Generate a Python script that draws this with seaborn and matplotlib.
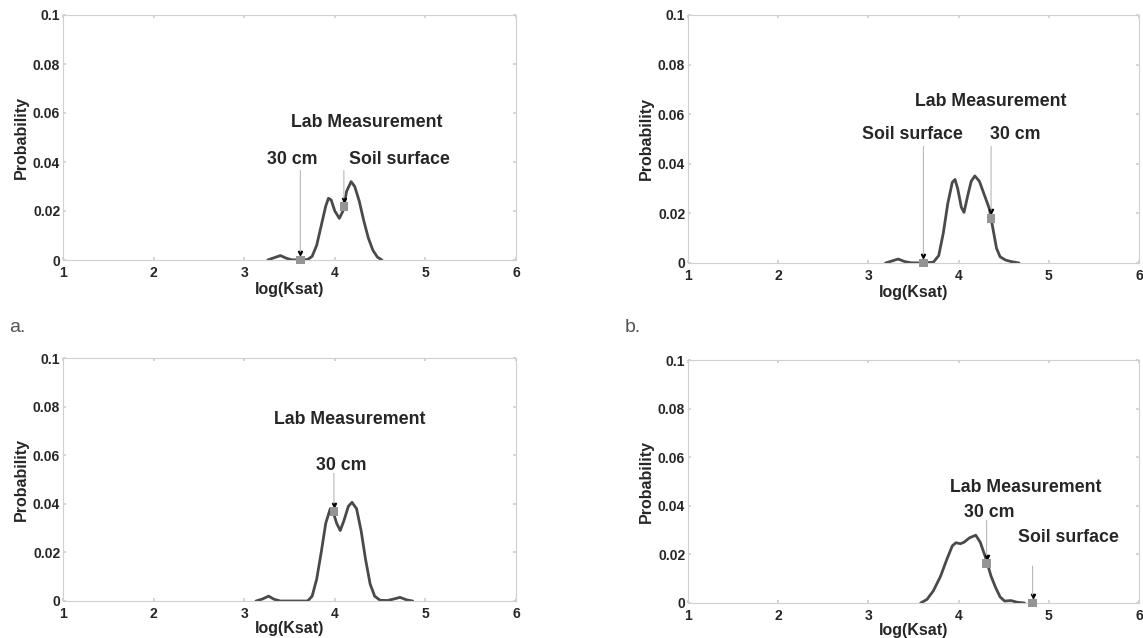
import matplotlib
matplotlib.use("Agg")
import matplotlib.pyplot as plt
import matplotlib.transforms as mtransforms
import seaborn as sns
import pandas as pd

# Curves (log(Ksat) vs probability)
a_x = [3.26, 3.32, 3.40, 3.46, 3.52, 3.60, 3.70, 3.75, 3.80, 3.85, 3.90, 3.93, 3.96, 4.00,
       4.05, 4.09, 4.13, 4.18, 4.22, 4.27, 4.32, 4.37, 4.42, 4.47, 4.52]
a_y = [0, 0.0008, 0.0018, 0.0008, 0.0001, 0, 0.0002, 0.0015, 0.006, 0.014, 0.022, 0.0252,
       0.0245, 0.020, 0.017, 0.020, 0.028, 0.032, 0.030, 0.024, 0.016, 0.009, 0.004, 0.0012, 0]

b_x = [3.19, 3.26, 3.33, 3.40, 3.47, 3.60, 3.72, 3.78, 3.83, 3.88, 3.93, 3.96, 3.99, 4.03,
       4.06, 4.10, 4.14, 4.18, 4.23, 4.28, 4.34, 4.38, 4.42, 4.46, 4.52, 4.58, 4.67]
b_y = [0, 0.0008, 0.0016, 0.0006, 0.0001, 0, 0.0003, 0.003, 0.012, 0.024, 0.0325, 0.0337,
       0.030, 0.0225, 0.0204, 0.027, 0.033, 0.0351, 0.033, 0.028, 0.022, 0.014, 0.006,
       0.0025, 0.0012, 0.0006, 0]

c_x = [3.13, 3.20, 3.27, 3.33, 3.40, 3.70, 3.75, 3.80, 3.85, 3.90, 3.95, 3.98, 4.02, 4.06,
       4.10, 4.15, 4.19, 4.24, 4.29, 4.34, 4.39, 4.44, 4.50, 4.58, 4.65, 4.72, 4.79, 4.86]
c_y = [0, 0.0008, 0.002, 0.0007, 0, 0, 0.002, 0.009, 0.020, 0.032, 0.038, 0.037, 0.032,
       0.029, 0.033, 0.039, 0.0406, 0.038, 0.029, 0.017, 0.007, 0.002, 0.0003, 0.0002,
       0.0008, 0.0015, 0.0005, 0]

d_x = [3.58, 3.65, 3.72, 3.80, 3.87, 3.93, 3.97, 4.02, 4.06, 4.12, 4.19, 4.24, 4.30, 4.36,
       4.41, 4.46, 4.51, 4.58, 4.65, 4.73]
d_y = [0, 0.0015, 0.005, 0.011, 0.018, 0.0235, 0.0248, 0.0244, 0.025, 0.0268, 0.0279,
       0.025, 0.0186, 0.011, 0.0064, 0.0025, 0.0008, 0.001, 0.0003, 0]

# Lab measurements (label, x, y)
a_meas = [("30 cm", 3.62, 0.0), ("Soil surface", 4.10, 0.0218)]
b_meas = [("Soil surface", 3.61, 0.0), ("30 cm", 4.36, 0.018)]
c_meas = [("30 cm", 3.99, 0.0368)]
d_meas = [("30 cm", 4.31, 0.0162), ("Soil surface", 4.82, 0.0)]

x_ticks = [1, 2, 3, 4, 5, 6]
y_ticks = [0, 0.02, 0.04, 0.06, 0.08, 0.1]
y_ticklabels = ["0", "0.02", "0.04", "0.06", "0.08", "0.1"]

# text placement per panel: title (x, y), labels (x, y, arrow start y)
panels = [
    dict(x=a_x, y=a_y, meas=a_meas, title=(4.35, 0.056),
         labels=[(3.53, 0.041, 0.0365), (4.71, 0.041, 0.0365)]),
    dict(x=b_x, y=b_y, meas=b_meas, title=(4.36, 0.065),
         labels=[(3.49, 0.0517, 0.047), (4.63, 0.0517, 0.047)]),
    dict(x=c_x, y=c_y, meas=c_meas, title=(4.17, 0.0746),
         labels=[(4.07, 0.0557, 0.0525)]),
    dict(x=d_x, y=d_y, meas=d_meas, title=(4.75, 0.0475),
         labels=[(4.34, 0.0371, 0.034), (5.22, 0.0271, 0.0152)]),
]

sns.set_theme(style="white")
plt.rcParams["font.family"] = ["Liberation Sans", "DejaVu Sans"]

fig = plt.figure(figsize=(11.43, 6.38), dpi=100)
W, H = 1143, 638
boxes = [(63, 15, 516, 260), (688, 15, 1139, 263),
         (63, 358, 516, 601), (688, 360, 1139, 603)]
xlabel_pads = [2, 2, 0, 0]

spine_col = "#d0d0d0"
for p, (l, t, r, b), lp in zip(panels, boxes, xlabel_pads):
    ax = fig.add_axes([l / W, 1 - b / H, (r - l) / W, (b - t) / H])
    df = pd.DataFrame({"x": p["x"], "y": p["y"]})
    sns.lineplot(data=df, x="x", y="y", ax=ax, color="#4a4a4a", lw=2.0, sort=False)

    mdf = pd.DataFrame(p["meas"], columns=["label", "x", "y"])
    sns.scatterplot(data=mdf, x="x", y="y", ax=ax, marker="s", s=38,
                    color="#959595", edgecolor="none", zorder=5, clip_on=False)

    ax.set_xlim(1, 6)
    ax.set_ylim(0, 0.1)
    ax.set_xticks(x_ticks)
    ax.set_yticks(y_ticks)
    ax.set_yticklabels(y_ticklabels)
    ax.tick_params(axis="both", direction="in", length=2, color=spine_col,
                   labelsize=10, pad=2, top=True, right=True,
                   bottom=True, left=True)
    ax.tick_params(axis="x", pad=4)
    for lab in ax.get_xticklabels() + ax.get_yticklabels():
        lab.set_fontweight("bold")
    for s in ax.spines.values():
        s.set_color(spine_col)
        s.set_linewidth(0.8)
    ax.set_xlabel("log(Ksat)", fontsize=11.5, fontweight="bold", labelpad=lp)
    ax.set_ylabel("Probability", fontsize=11.5, fontweight="bold", labelpad=3)

    ax.text(p["title"][0], p["title"][1], "Lab Measurement", ha="center",
            va="center", fontsize=12.8, fontweight="bold")
    head = mtransforms.offset_copy(ax.transData, fig=fig, x=0, y=5, units="points")
    for (lx, ly, ay), (name, mx, my) in zip(p["labels"], p["meas"]):
        ax.text(lx, ly, name, ha="center", va="center", fontsize=12.8,
                fontweight="bold")
        ax.annotate("", xy=(mx, my), xytext=(mx, ay),
                    arrowprops=dict(arrowstyle="-", color="#b8b8b8", lw=0.8,
                                    shrinkA=0, shrinkB=6))
        ax.plot([mx], [my], marker="v", ms=3, color="black", transform=head)

fig.text(9 / W, 1 - 328 / H, "a.", fontsize=14, color="#555555", va="center")
fig.text(625 / W, 1 - 328 / H, "b.", fontsize=14, color="#555555", va="center")

fig.savefig("out.png", dpi=100)
